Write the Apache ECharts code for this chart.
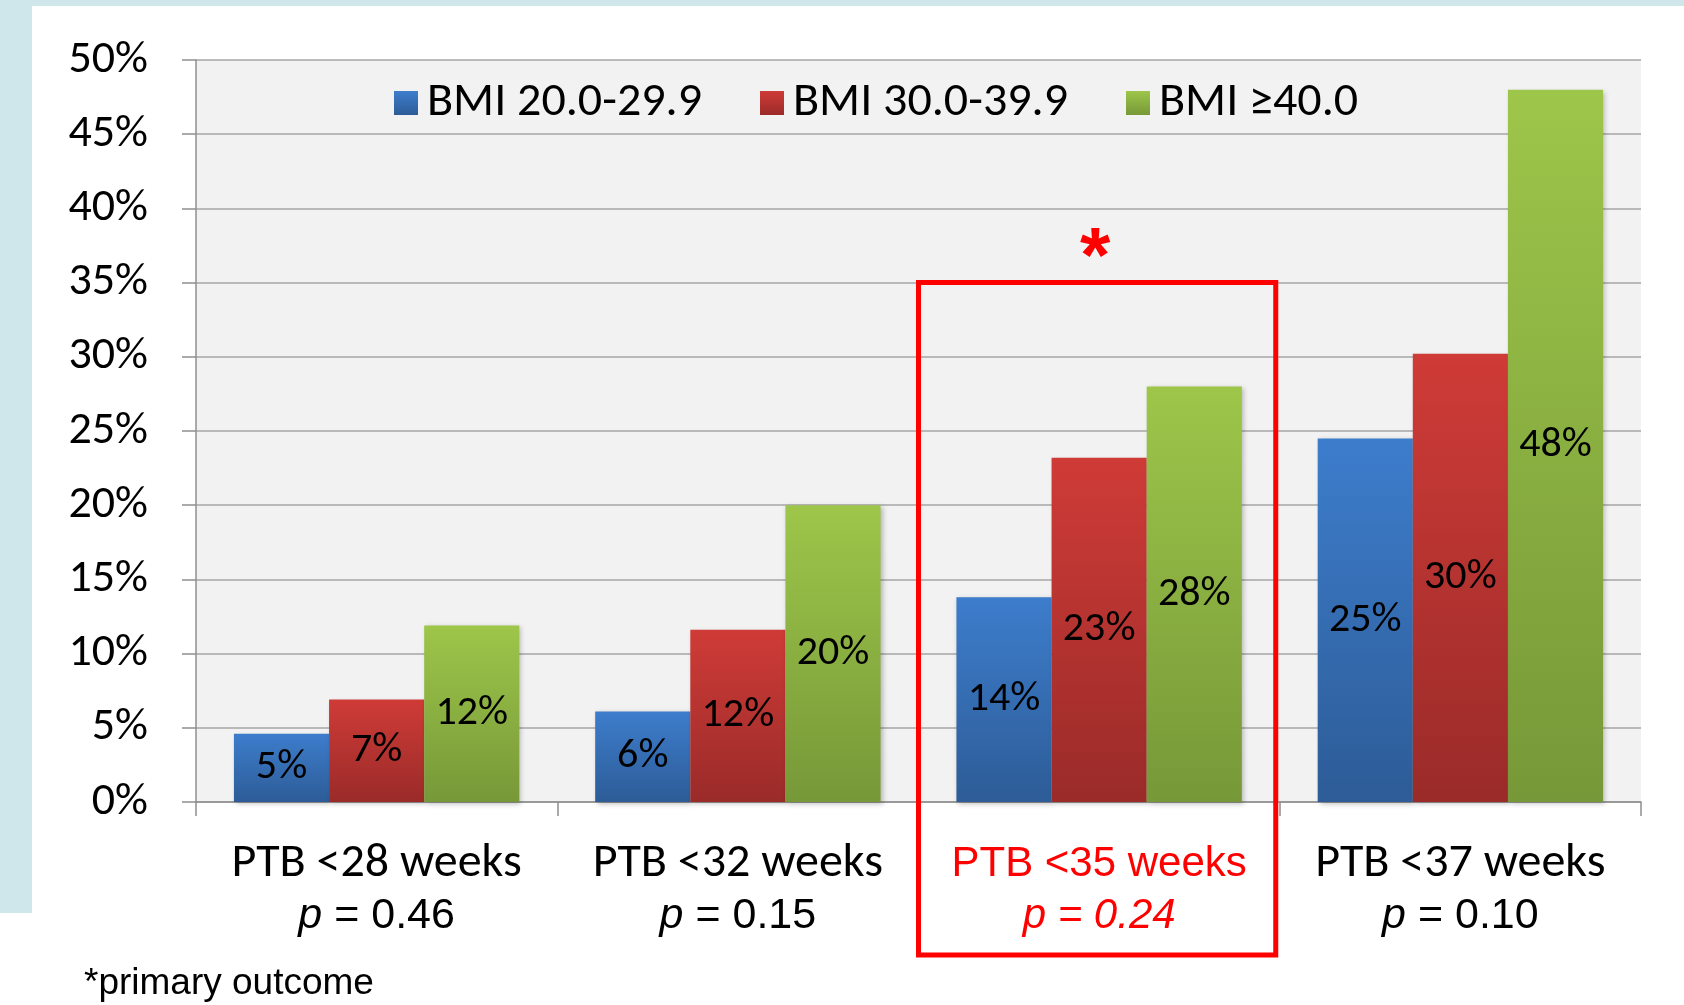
<!DOCTYPE html>
<html>
<head>
<meta charset="utf-8">
<title>PTB by BMI</title>
<script src="https://cdn.jsdelivr.net/npm/echarts@6/dist/echarts.min.js"></script>
<style>
    html, body {
        margin: 0;
        padding: 0;
        background: #ffffff;
    }
    #main {
        width: 1684px;
        height: 1005px;
    }
</style>
</head>
<body>
<div id="main"></div>
<script>
// categories + p values under each group
const categories = ['PTB <28 weeks', 'PTB <32 weeks', 'PTB <35 weeks', 'PTB <37 weeks']
const pValues = ['0.46', '0.15', '0.24', '0.10']

// series values (%)
const seriesNames = ['BMI 20.0-29.9', 'BMI 30.0-39.9', 'BMI \u226540.0']
const bmi20 = [4.6, 6.1, 13.8, 24.5]
const bmi30 = [6.9, 11.6, 23.2, 30.2]
const bmi40 = [11.9, 20.0, 28.0, 48.0]

// y axis
const yMin = 0
const yMax = 50
const yStep = 5

// highlighted group (primary outcome)
const primaryIndex = 2
const primaryTop = 35

const calibri = 'Carlito, Lato, "Open Sans", sans-serif'
const arial = '"Liberation Sans", Arial, sans-serif'

// gradient fill per bar, light at top, dark at bottom
function grad(top, bottom) {
    return {
        type: 'linear', x: 0, y: 0, x2: 0, y2: 1,
        colorStops: [{ offset: 0, color: top }, { offset: 1, color: bottom }]
    }
}

function barSeries(name, data, top, bottom) {
    return {
        name: name,
        type: 'bar',
        data: data,
        barGap: '0%',
        barCategoryGap: '21%',
        itemStyle: {
            color: grad(top, bottom),
            shadowColor: 'rgba(0, 0, 0, 0.25)',
            shadowBlur: 5,
            shadowOffsetX: 2,
            shadowOffsetY: 2
        },
        label: {
            show: true,
            position: 'inside',
            formatter: p => Math.round(p.value) + '%',
            color: '#000',
            fontFamily: calibri,
            fontSize: 42
        }
    }
}

const chart = echarts.init(document.getElementById('main'), null, { renderer: 'canvas' })

const option = {
    animation: false,
    backgroundColor: '#ffffff',
    grid: {
        left: 196,
        right: 43,
        top: 60,
        bottom: 203,
        show: true,
        backgroundColor: '#f2f2f2',
        borderWidth: 0
    },
    legend: {
        left: 389,
        top: 74,
        itemWidth: 24,
        itemHeight: 24,
        itemGap: 58,
        icon: 'rect',
        textStyle: {
            color: '#000',
            fontFamily: calibri,
            fontSize: 48,
            padding: [0, 0, 0, 4]
        }
    },
    xAxis: {
        type: 'category',
        data: categories,
        axisLine: { lineStyle: { color: '#8f8f8f', width: 1.5 } },
        axisTick: { show: true, length: 14, lineStyle: { color: '#8f8f8f', width: 1.5 } },
        axisLabel: {
            margin: 36,
            interval: 0,
            formatter: function (value, idx) {
                if (idx === primaryIndex) {
                    return '{hl|' + value + '}\n{hlp|p = ' + pValues[idx] + '}'
                }
                return '{cat|' + value + '}\n{pi|p}{pv| = ' + pValues[idx] + '}'
            },
            rich: {
                cat: { fontFamily: calibri, fontSize: 48, color: '#000', lineHeight: 52 },
                pi: { fontFamily: arial, fontSize: 43, fontStyle: 'italic', color: '#000', lineHeight: 52 },
                pv: { fontFamily: arial, fontSize: 43, color: '#000', lineHeight: 52 },
                hl: { fontFamily: arial, fontSize: 42, color: '#ff0000', lineHeight: 52 },
                hlp: { fontFamily: arial, fontSize: 42, fontStyle: 'italic', color: '#ff0000', lineHeight: 52 }
            }
        }
    },
    yAxis: {
        type: 'value',
        min: yMin,
        max: yMax,
        interval: yStep,
        axisLine: { show: true, lineStyle: { color: '#8f8f8f', width: 1.5 } },
        axisTick: { show: true, length: 14, lineStyle: { color: '#8f8f8f', width: 1.5 } },
        splitLine: { lineStyle: { color: '#a6a6a6', width: 1.5 } },
        axisLabel: {
            margin: 48,
            formatter: '{value}%',
            color: '#000',
            fontFamily: calibri,
            fontSize: 46
        }
    },
    series: [
        barSeries(seriesNames[0], bmi20, '#3d7dcc', '#2d5c97'),
        barSeries(seriesNames[1], bmi30, '#cf3b37', '#9a2b29'),
        barSeries(seriesNames[2], bmi40, '#9dc64a', '#779838')
    ]
}

chart.setOption(option)

// red box round the primary outcome group + asterisk + footnote
const gridW = 1684 - 196 - 43
const band = gridW / categories.length
const cx = chart.convertToPixel({ xAxisIndex: 0 }, categories[primaryIndex])
const yTop = chart.convertToPixel({ yAxisIndex: 0 }, primaryTop)

chart.setOption({
    graphic: [
        // light blue frame at left and top
        { type: 'rect', shape: { x: 0, y: 0, width: 1684, height: 6 }, style: { fill: '#cfe7eb' }, silent: true },
        { type: 'rect', shape: { x: 0, y: 0, width: 32, height: 913 }, style: { fill: '#cfe7eb' }, silent: true },
        {
            type: 'rect',
            z: 100,
            shape: { x: cx - band / 2, y: yTop, width: band - 4, height: 955 - yTop },
            style: { fill: 'none', stroke: '#ff0000', lineWidth: 5 }
        },
        {
            type: 'text',
            z: 100,
            x: cx - 4,
            y: yTop - 22,
            style: {
                text: '*',
                fill: '#ff0000',
                font: 'bold 78px "Liberation Sans", Arial, sans-serif',
                align: 'center',
                verticalAlign: 'middle'
            }
        },
        {
            type: 'text',
            left: 84,
            top: 965,
            style: {
                text: '*primary outcome',
                fill: '#000',
                font: '37px "Liberation Sans", Arial, sans-serif'
            }
        }
    ]
})
</script>
</body>
</html>
